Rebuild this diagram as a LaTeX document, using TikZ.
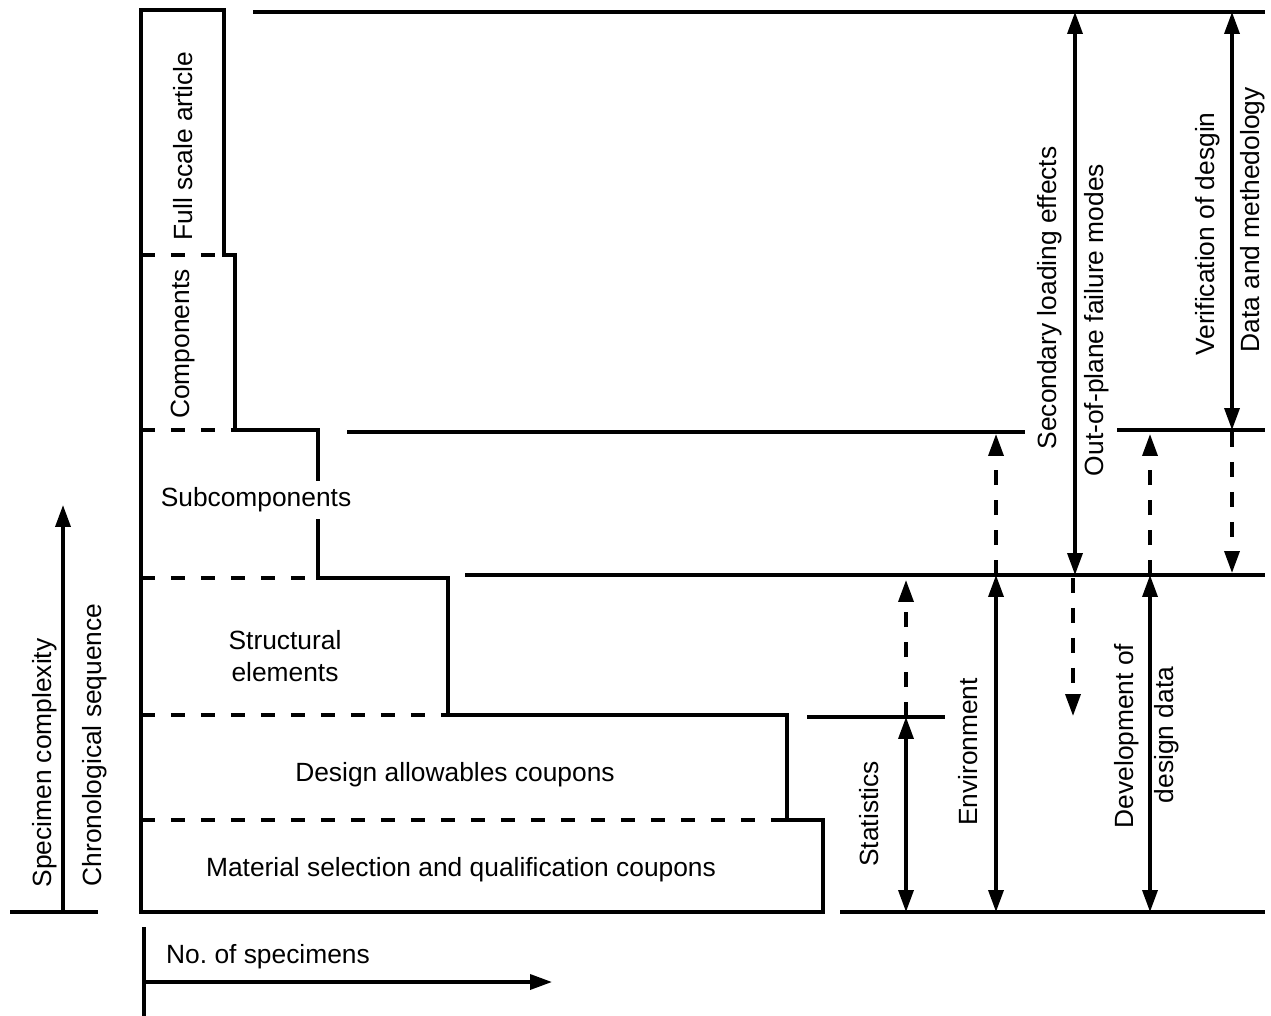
\documentclass[tikz,border=0pt]{standalone}
\usepackage{fontspec}
\setmainfont{Liberation Sans}
\usetikzlibrary{arrows.meta}
\begin{document}
\begin{tikzpicture}[x=.02cm, y=-.02cm, line width=2pt,
  >={Triangle[length=.44cm,width=.3cm]},
  lvl/.style={dash pattern=on .28cm off .32cm},
  hint/.style={->, dash pattern=on .3cm off .3cm},
  txt/.style={font=\fontsize{15}{18}\selectfont, inner sep=1pt, align=center},
  vtxt/.style={txt, rotate=90}]
\useasboundingbox (0,0) rectangle (1271,1016);

% staircase of test levels
\draw (141,912) -- (141,10) -- (224,10) -- (224,255) -- (235,255) -- (235,430)
  -- (318,430) -- (318,578) -- (448,578) -- (448,715) -- (787,715) -- (787,820)
  -- (823,820) -- (823,912) -- cycle;
\draw[lvl] (141,255) -- (224,255);
\draw[lvl] (141,430) -- (235,430);
\draw[lvl] (141,578) -- (318,578);
\draw[lvl] (141,715) -- (448,715);
\draw[lvl] (141,820) -- (787,820);

\node[vtxt] (full) at (183,146) {Full scale article};
\node[vtxt] (comp) at (183,344) {Components};
\node[txt, fill=white, inner sep=4pt] (sub) at (256,500) {Subcomponents};
\node[txt] (elem) at (285,656) {Structural\\elements};
\node[txt] (allow) at (455,775) {Design allowables coupons};
\node[txt] (mat) at (461,870) {Material selection and qualification coupons};

% reference lines on the right
\draw (253,12) -- (1265,12);
\draw (347,432) -- (1025,432);
\draw (1117,430) -- (1265,430);
\draw (465,575) -- (1265,575);
\draw (807,717) -- (945,717);
\draw (840,912) -- (1265,912);

\foreach \n/\x/\ya/\yb in {stat/906/717/912, env/996/575/912, dev/1150/575/912,
    sec/1075/12/575, ver/1232/12/430, stat2/906/717/580, env2/996/575/434,
    dev2/1150/575/434, ver2/1232/432/573, sec2/1073/578/716} {
  \coordinate (\n-a) at (\x,\ya);
  \coordinate (\n-b) at (\x,\yb);
}
\draw[<->] (stat-a) -- (stat-b);
\draw[<->] (env-a) -- (env-b);
\draw[<->] (dev-a) -- (dev-b);
\draw[<->] (sec-a) -- (sec-b);
\draw[<->] (ver-a) -- (ver-b);
\draw[hint] (stat2-a) -- (stat2-b);
\draw[hint] (env2-a) -- (env2-b);
\draw[hint] (dev2-a) -- (dev2-b);
\draw[hint] (ver2-a) -- (ver2-b);
\draw[hint] (sec2-a) -- (sec2-b);

\node[vtxt] (stats) at (869,814) {Statistics};
\node[vtxt] (envir) at (968,752) {Environment};
\node[vtxt] (devel) at (1127,736) {Development of};
\node[vtxt] (ddata) at (1167,735) {design data};
\node[vtxt] (second) at (1050,298) {Secondary loading effects};
\node[vtxt] (oop) at (1097,320) {Out-of-plane failure modes};
\node[vtxt] (verif) at (1208,234) {Verification of desgin};
\node[vtxt] (meth) at (1253,220) {Data and methedology};

% axes
\coordinate (ybase) at (63,912);
\coordinate (ytip) at (63,505);
\draw (10,912) -- (98,912);
\draw[->] (ybase) -- (ytip);
\node[vtxt] (cplx) at (45,763) {Specimen complexity};
\node[vtxt] (chron) at (95,745) {Chronological sequence};

\coordinate (xbase) at (144,982);
\coordinate (xtip) at (552,982);
\draw (144,927) -- (144,1016);
\draw[->] (xbase) -- (xtip);
\node[txt] (nspec) at (268,957) {No.\ of specimens};
\end{tikzpicture}
\end{document}
